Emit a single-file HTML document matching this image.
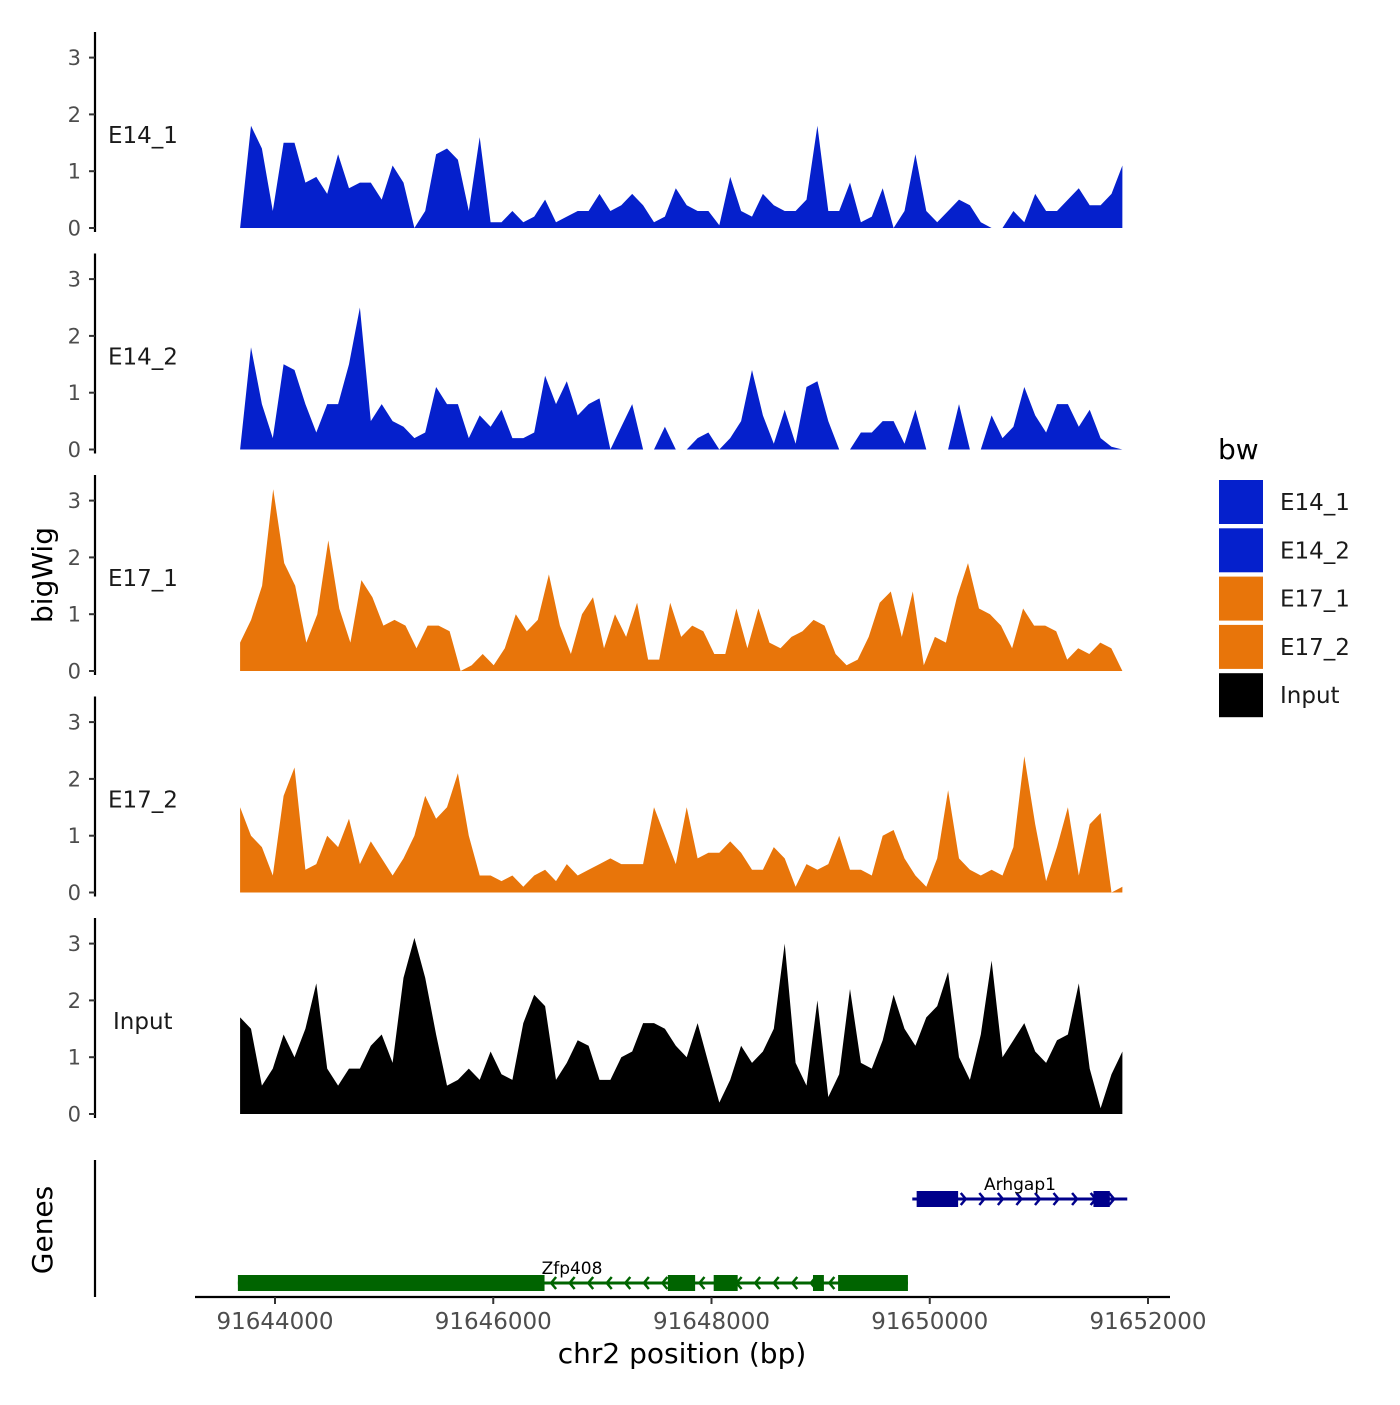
<!DOCTYPE html>
<html><head><meta charset="utf-8"><style>
body{margin:0;background:#fff;font-family:"Liberation Sans","DejaVu Sans",sans-serif}
svg text{font-family:"DejaVu Sans","Liberation Sans",sans-serif}
</style></head><body>
<svg id="c" width="1400" height="1400" xmlns="http://www.w3.org/2000/svg"></svg>
<script>
const trackNames=["E14_1","E14_2","E17_1","E17_2","Input"];
const trackColors=["#0520CC","#0520CC","#E8750A","#E8750A","#000000"];
const e14_1=[0,1.8,1.4,0.3,1.5,1.5,0.8,0.9,0.6,1.3,0.7,0.8,0.8,0.5,1.1,0.8,0,0.3,1.3,1.4,1.2,0.3,1.6,0.1,0.1,0.3,0.1,0.2,0.5,0.1,0.2,0.3,0.3,0.6,0.3,0.4,0.6,0.4,0.1,0.2,0.7,0.4,0.3,0.3,0.05,0.9,0.3,0.2,0.6,0.4,0.3,0.3,0.5,1.8,0.3,0.3,0.8,0.1,0.2,0.7,0,0.3,1.3,0.3,0.1,0.3,0.5,0.4,0.1,0,0,0.3,0.1,0.6,0.3,0.3,0.5,0.7,0.4,0.4,0.6,1.1];
const e14_2=[0,1.8,0.8,0.2,1.5,1.4,0.8,0.3,0.8,0.8,1.5,2.5,0.5,0.8,0.5,0.4,0.2,0.3,1.1,0.8,0.8,0.2,0.6,0.4,0.7,0.2,0.2,0.3,1.3,0.8,1.2,0.6,0.8,0.9,0,0.4,0.8,0,0,0.4,0,0,0.2,0.3,0,0.2,0.5,1.4,0.6,0.1,0.7,0.1,1.1,1.2,0.5,0,0,0.3,0.3,0.5,0.5,0.1,0.7,0,0,0,0.8,0,0,0.6,0.2,0.4,1.1,0.6,0.3,0.8,0.8,0.4,0.7,0.2,0.05,0];
const e17_1=[0.5,0.9,1.5,3.2,1.9,1.5,0.5,1.0,2.3,1.1,0.5,1.6,1.3,0.8,0.9,0.8,0.4,0.8,0.8,0.7,0,0.1,0.3,0.1,0.4,1.0,0.7,0.9,1.7,0.8,0.3,1.0,1.3,0.4,1.0,0.6,1.2,0.2,0.2,1.2,0.6,0.8,0.7,0.3,0.3,1.1,0.4,1.1,0.5,0.4,0.6,0.7,0.9,0.8,0.3,0.1,0.2,0.6,1.2,1.4,0.6,1.4,0.1,0.6,0.5,1.3,1.9,1.1,1.0,0.8,0.4,1.1,0.8,0.8,0.7,0.2,0.4,0.3,0.5,0.4,0];
const e17_2=[1.5,1.0,0.8,0.3,1.7,2.2,0.4,0.5,1.0,0.8,1.3,0.5,0.9,0.6,0.3,0.6,1.0,1.7,1.3,1.5,2.1,1.0,0.3,0.3,0.2,0.3,0.1,0.3,0.4,0.2,0.5,0.3,0.4,0.5,0.6,0.5,0.5,0.5,1.5,1.0,0.5,1.5,0.6,0.7,0.7,0.9,0.7,0.4,0.4,0.8,0.6,0.1,0.5,0.4,0.5,1.0,0.4,0.4,0.3,1.0,1.1,0.6,0.3,0.1,0.6,1.8,0.6,0.4,0.3,0.4,0.3,0.8,2.4,1.2,0.2,0.8,1.5,0.3,1.2,1.4,0,0.1];
const input=[1.7,1.5,0.5,0.8,1.4,1.0,1.5,2.3,0.8,0.5,0.8,0.8,1.2,1.4,0.9,2.4,3.1,2.4,1.4,0.5,0.6,0.8,0.6,1.1,0.7,0.6,1.6,2.1,1.9,0.6,0.9,1.3,1.2,0.6,0.6,1.0,1.1,1.6,1.6,1.5,1.2,1.0,1.6,0.9,0.2,0.6,1.2,0.9,1.1,1.5,3.0,0.9,0.5,2.0,0.3,0.7,2.2,0.9,0.8,1.3,2.1,1.5,1.2,1.7,1.9,2.5,1.0,0.6,1.4,2.7,1.0,1.3,1.6,1.1,0.9,1.3,1.4,2.3,0.8,0.1,0.7,1.1];
const trackData=[e14_1,e14_2,e17_1,e17_2,input];
const xTicks=[91644000,91646000,91648000,91650000,91652000];
const yTicks=[0,1,2,3];
const genes=[{name:"Arhgap1",strand:"+",start:91649840,end:91651810,exons:[[91649880,91650260],[91651500,91651650]],color:"#00008B",row:0},
{name:"Zfp408",strand:"-",start:91643660,end:91649800,exons:[[91643660,91646470],[91647600,91647850],[91648020,91648240],[91648930,91649030],[91649160,91649800]],color:"#006400",row:1}];
const dataStart=91643680,dataEnd=91651765;
const svg=document.getElementById('c');
const NS="http://www.w3.org/2000/svg";
function X(bp){return 275+(bp-91644000)*(873/8000);}
function mk(tag,at,parent){const e=document.createElementNS(NS,tag);for(const k in at)e.setAttribute(k,at[k]);(parent||svg).appendChild(e);return e;}
const zeros=[228,449.5,671,892.5,1114];
const upp=56.8;
trackData.forEach((vals,t)=>{
  const g=mk('g',{});
  
  
  const z=zeros[t];const Y=v=>z-v*upp;
  const n=vals.length,step=(dataEnd-dataStart)/(n-1);
  let d='M'+X(dataStart)+','+z;
  vals.forEach((v,i)=>{d+=' L'+X(dataStart+i*step).toFixed(1)+','+Y(v).toFixed(1);});
  d+=' L'+X(dataEnd)+','+z+' Z';
  const p=mk('path',{d:d,fill:trackColors[t]},g);
  
  
  const ax=mk('line',{x1:95,x2:95,y1:z-196,y2:z+4,stroke:'#000','stroke-width':2.2},g);
  
  
  yTicks.forEach(v=>{
    mk('line',{x1:89,x2:95,y1:Y(v),y2:Y(v),stroke:'#333','stroke-width':2},g);
    const tx=mk('text',{x:81,y:Y(v)+7.5,'text-anchor':'end','font-size':21,fill:'#4d4d4d'},g);tx.textContent=v;
    
    
  });
  const lb=mk('text',{x:trackNames[t]==='Input'?113:108,y:z-85,'font-size':23,fill:'#1a1a1a'},g);lb.textContent=trackNames[t];
  
  
});
// genes
const ga=mk('line',{x1:95,x2:95,y1:1160,y2:1297,stroke:'#000','stroke-width':2.2});


genes.forEach(gn=>{
  const g=mk('g',{});
  
  
  const y=gn.row===0?1199:1283;
  mk('line',{x1:X(gn.start),x2:X(gn.end),y1:y,y2:y,stroke:gn.color,'stroke-width':3},g);
  for(let bp=gn.start+150;bp<gn.end-50;bp+=170){
    const x=X(bp),s=gn.strand==='+'?1:-1;
    mk('polyline',{points:(x-5*s)+','+(y-6)+' '+x+','+y+' '+(x-5*s)+','+(y+6),fill:'none',stroke:gn.color,'stroke-width':2.5},g);
  }
  gn.exons.forEach(e=>mk('rect',{x:X(e[0]),y:y-8,width:X(e[1])-X(e[0]),height:16,fill:gn.color},g));
  const lx=gn.row===0?1020:572;
  const tl=mk('text',{x:lx,y:y-9,'text-anchor':'middle','font-size':17,fill:'#000'},g);tl.textContent=gn.name;
  
  
});
// x axis
const xa=mk('line',{x1:195,x2:1170,y1:1297,y2:1297,stroke:'#000','stroke-width':2.2});


xTicks.forEach(v=>{
  mk('line',{x1:X(v),x2:X(v),y1:1297,y2:1304,stroke:'#333','stroke-width':2});
  const t=mk('text',{x:X(v),y:1329,'text-anchor':'middle','font-size':23,fill:'#4d4d4d'});t.textContent=v;
  
  
});
const xt=mk('text',{x:682,y:1363,'text-anchor':'middle','font-size':28,fill:'#000'});xt.textContent='chr2 position (bp)';


const yt=mk('text',{x:0,y:0,'text-anchor':'middle','font-size':28,fill:'#000',transform:'translate(52,575) rotate(-90)'});yt.textContent='bigWig';


const gt=mk('text',{x:0,y:0,'text-anchor':'middle','font-size':28,fill:'#000',transform:'translate(52,1230) rotate(-90)'});gt.textContent='Genes';


// legend
const lt=mk('text',{x:1218,y:459,'font-size':28,fill:'#000'});lt.textContent='bw';


const legCols=["#0520CC","#0520CC","#E8750A","#E8750A","#000000"];
trackNames.forEach((nm,i)=>{
  const g=mk('g',{});
  
  
  const y=480+i*48.3;
  mk('rect',{x:1219,y:y,width:44,height:44,fill:legCols[i]},g);
  const t=mk('text',{x:1280,y:y+30,'font-size':23,fill:'#1a1a1a'},g);t.textContent=nm;
});
</script>
</body></html>
